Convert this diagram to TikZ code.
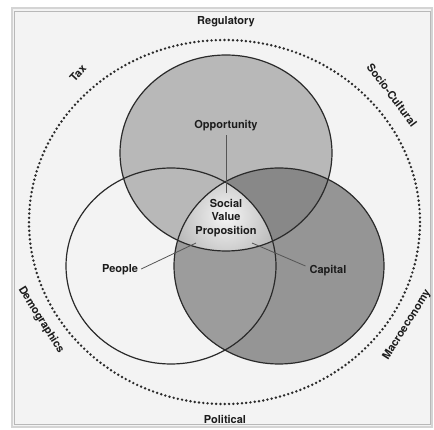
\documentclass[tikz,border=0pt]{standalone}
\usepackage{fontspec}
\setmainfont{TeX Gyre Heros}
\definecolor{bgc}{HTML}{F3F3F3}
\definecolor{framea}{HTML}{D4D4D4}
\definecolor{frameb}{HTML}{B8B8B8}
\definecolor{topc}{HTML}{B8B8B8}
\definecolor{rightc}{HTML}{959595}
\definecolor{trc}{HTML}{888888}
\definecolor{lrc}{HTML}{9C9C9C}
\definecolor{linec}{HTML}{2A2A2A}
\definecolor{txtc}{HTML}{1C1C1C}
\begin{document}
\begin{tikzpicture}[x=1pt,y=-1pt,
  lbl/.style={font=\bfseries\fontsize{11}{13.5}\selectfont, text=txtc, inner sep=0pt, align=center},
  ring/.style={draw=linec, line width=1.2pt},
  leader/.style={draw=linec!80, line width=0.8pt},
  dotring/.style={draw=linec, line width=2.7pt, dash pattern=on 0pt off 4.3pt, line cap=round}]
\useasboundingbox (0,0) rectangle (434,430);
\fill[white] (0,0) rectangle (434,430);
\fill[bgc] (12,8) rectangle (432,427);
\draw[framea, line width=1.6pt] (12,8) rectangle (432,427);
\draw[frameb, line width=0.8pt] (14.5,11) rectangle (430,424.5);

% dotted environment ring
\draw[dotring] (224.5,222) ellipse [x radius=195.5pt, y radius=182pt];

% fills
\fill[topc] (226,153) ellipse [x radius=106pt, y radius=98pt];
\fill[rightc] (279,266) ellipse [x radius=105pt, y radius=98pt];
\begin{scope}
  \clip (226,153) ellipse [x radius=106pt, y radius=98pt];
  \fill[trc] (279,266) ellipse [x radius=105pt, y radius=98pt];
\end{scope}
\begin{scope}
  \clip (171,266) ellipse [x radius=105pt, y radius=98pt];
  \fill[lrc] (279,266) ellipse [x radius=105pt, y radius=98pt];
\end{scope}
\begin{scope}
  \clip (226,153) ellipse [x radius=106pt, y radius=98pt];
  \clip (171,266) ellipse [x radius=105pt, y radius=98pt];
  \clip (279,266) ellipse [x radius=105pt, y radius=98pt];
  \shade[inner color=white!96!black, outer color=topc!95!black] (226,216) circle [radius=62pt];
\end{scope}

% outlines
\draw[ring] (226,153) ellipse [x radius=106pt, y radius=98pt];
\draw[ring] (171,266) ellipse [x radius=105pt, y radius=98pt];
\draw[ring] (279,266) ellipse [x radius=105pt, y radius=98pt];

% inner labels
\node[lbl] (opp) at (226,126) {Opportunity};
\node[lbl] (svp) at (226,218) {Social\\Value\\Proposition};
\node[lbl] (people) at (120,270) {People};
\node[lbl] (capital) at (328,271) {Capital};
\coordinate (oppend) at (226,193);
\coordinate (peopleend) at (196,243);
\coordinate (capitalend) at (252,243);
\draw[leader] (opp.south) ++(0,4) -- (oppend);
\draw[leader] (people.east) ++(3,-1) -- (peopleend);
\draw[leader] (capital.west) ++(-4,-5) -- (capitalend);

% environment labels
\node[lbl] (reg) at (226,22) {Regulatory};
\node[lbl] (pol) at (225,419) {Political};
\node[lbl, rotate=47] (tax) at (78,73) {Tax};
\node[lbl, rotate=-53] (soc) at (392,95) {Socio-Cultural};
\node[lbl, rotate=-58] (dem) at (41,320) {Demographics};
\node[lbl, rotate=58] (mac) at (407,325) {Macroeconomy};
\end{tikzpicture}
\end{document}
